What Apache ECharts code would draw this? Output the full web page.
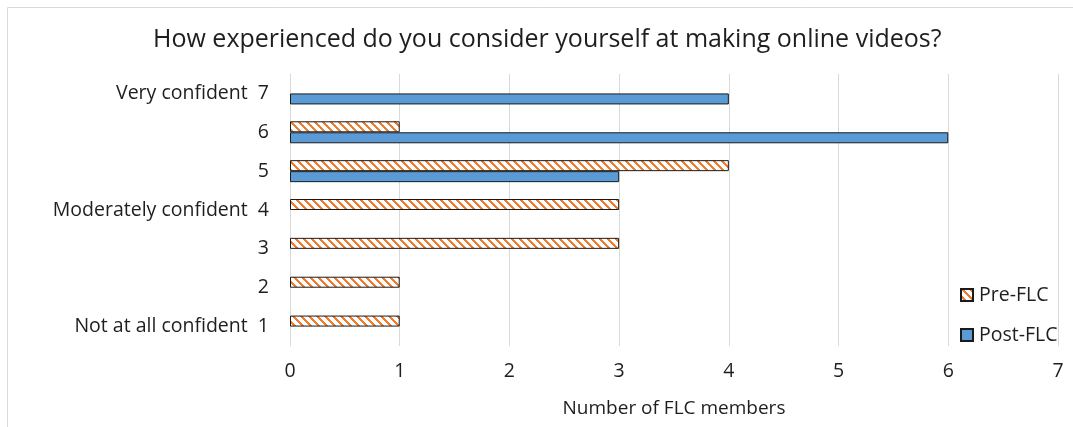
<!DOCTYPE html>
<html>
<head>
<meta charset="utf-8">
<script src="https://cdn.jsdelivr.net/npm/echarts@6/dist/echarts.min.js"></script>
<style>html,body{margin:0;padding:0;background:#fff;}#c{width:1073px;height:427px;}</style>
</head>
<body>
<div id="c"></div>
<script>
const categories = ['1', '2', '3', '4', '5', '6', '7'];
const tickLabels = ['Not at all confident  1', '2', '3', 'Moderately confident  4', '5', '6', 'Very confident  7'];
const preFLC = [1, 1, 3, 3, 4, 1, 0];
const postFLC = [0, 0, 0, 0, 3, 6, 4];
const xTicks = [0, 1, 2, 3, 4, 5, 6, 7];
const titleText = 'How experienced do you consider yourself at making online videos?';
const xName = 'Number of FLC members';

function makePattern() {
  const n = 8;
  const cv = document.createElement('canvas');
  cv.width = n; cv.height = n;
  const ctx = cv.getContext('2d');
  const img = ctx.createImageData(n, n);
  for (let y = 0; y < n; y++) {
    for (let x = 0; x < n; x++) {
      const i = (y * n + x) * 4;
      const d = ((x - y) % n + n) % n;
      const orange = d < 3;
      img.data[i] = orange ? 237 : 255;
      img.data[i + 1] = orange ? 125 : 255;
      img.data[i + 2] = orange ? 49 : 255;
      img.data[i + 3] = 255;
    }
  }
  ctx.putImageData(img, 0, 0);
  return cv;
}
const pattern = { image: makePattern(), repeat: 'repeat' };
const nz = a => a.map(v => (v === 0 ? null : v));

const chart = echarts.init(document.getElementById('c'), null, { renderer: 'canvas' });
const font = '"Open Sans", "Noto Sans", sans-serif';
const txt = '#1e1e1e';
chart.setOption({
  animation: false,
  textStyle: { fontFamily: font },
  graphic: [
    {
      type: 'rect', shape: { x: 7.5, y: 7.5, width: 1075, height: 430 },
      style: { fill: 'none', stroke: '#d9d9d9', lineWidth: 1 }, silent: true, z: -1
    }
  ],
  title: {
    text: titleText, left: 148, top: 22,
    textStyle: { fontFamily: font, fontSize: 25, fontWeight: 'normal', color: txt }
  },
  legend: {
    orient: 'vertical', left: 955, top: 279, itemWidth: 12, itemHeight: 12, itemGap: 18,
    data: ['Pre-FLC', 'Post-FLC'], icon: 'rect',
    textStyle: { fontFamily: font, fontSize: 19.5, color: txt, padding: [0, 0, 0, 1], lineHeight: 22 }
  },
  grid: { left: 290, right: 15, top: 74, bottom: 81, containLabel: false },
  xAxis: {
    type: 'value', min: 0, max: 7, interval: 1,
    name: xName, nameLocation: 'middle', nameGap: 53,
    nameTextStyle: { fontFamily: font, fontSize: 19, color: txt },
    axisLine: { show: false }, axisTick: { show: false },
    axisLabel: { fontFamily: font, fontSize: 19.5, color: txt, margin: 15, formatter: v => String(xTicks[v]) },
    splitLine: { show: true, lineStyle: { color: '#d9d9d9', width: 1 } }
  },
  yAxis: {
    type: 'category', data: categories,
    axisLine: { show: true, lineStyle: { color: '#d9d9d9' } },
    axisTick: { show: false },
    axisLabel: { fontFamily: font, fontSize: 19.5, color: txt, margin: 21,
      formatter: (v, i) => tickLabels[i] }
  },
  series: [
    {
      name: 'Pre-FLC', type: 'bar', data: nz(preFLC), barWidth: 11, barGap: '0%',
      itemStyle: { color: pattern, borderColor: '#1a1a1a', borderWidth: 1 }
    },
    {
      name: 'Post-FLC', type: 'bar', data: nz(postFLC), barWidth: 11, barGap: '0%',
      itemStyle: { color: '#5b9bd5', borderColor: '#1a1a1a', borderWidth: 1 }
    }
  ]
});
</script>
</body>
</html>
